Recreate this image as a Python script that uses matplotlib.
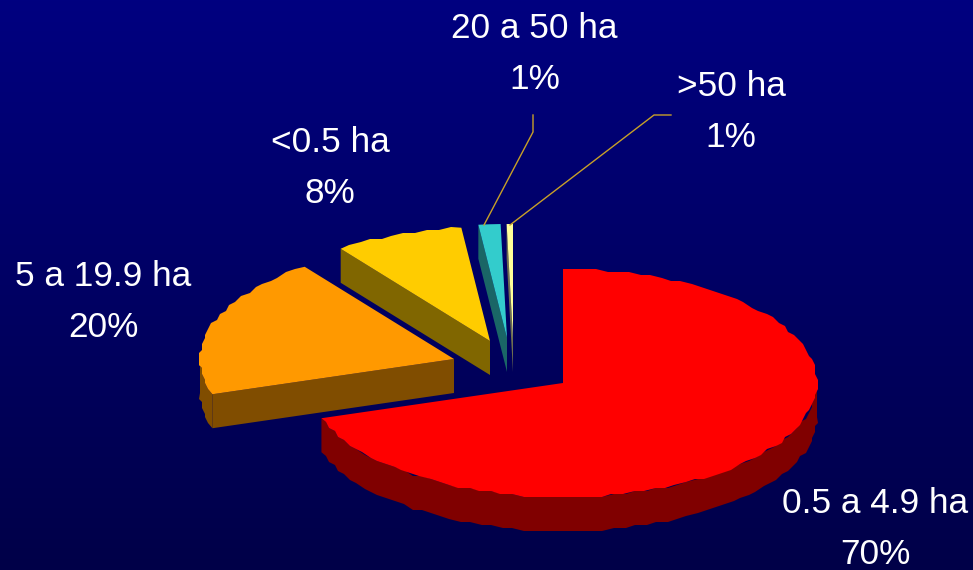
import numpy as np
import matplotlib
matplotlib.use("Agg")
import matplotlib.pyplot as plt
from matplotlib.patches import Polygon

categories = ["0.5 a 4.9 ha", "5 a 19.9 ha", "<0.5 ha", "20 a 50 ha", ">50 ha"]
values = [70, 20, 8.2, 1.4, 0.4]          # slice sizes
percent_labels = ["70%", "20%", "8%", "1%", "1%"]
top_colors = ["#ff0000", "#ff9900", "#ffcc00", "#33cccc", "#ffff99"]
side_colors = ["#800000", "#804d00", "#806600", "#1a6666", "#6e6e50"]
tips = [(563, 383), (454, 359), (490, 341), (507, 338), (513, 338)]
label_centres = [(875, 503.5), (103.5, 276.5), (330, 142.5), (534.5, 28.5), (731, 86.5)]

RX, RY, DEPTH = 254, 114, 34
LINE_GAP = 51
STAIR = 3.0

plt.rcParams["font.family"] = ["Liberation Sans", "DejaVu Sans"]
fig = plt.figure(figsize=(9.73, 5.70), dpi=100)
ax = fig.add_axes([0, 0, 1, 1])
ax.set_xlim(0, 973)
ax.set_ylim(570, 0)
ax.axis("off")

grad = np.zeros((256, 1, 3))
grad[:, 0, 2] = np.linspace(0x80, 0x48, 256) / 255
ax.imshow(grad, extent=(0, 973, 570, 0), aspect="auto", zorder=0)


def rim(tip, t0, t1, step=2.5):
    """Outline with the slightly stepped edge of the low-resolution original."""
    n = max(2, int(abs(t1 - t0) / step) + 1)
    t = np.radians(np.linspace(t0, t1, n))
    dx, dy = RX * np.sin(t), -RY * np.cos(t)
    if abs(t1 - t0) > 15:
        dx[1:-1] = np.round(dx[1:-1] / STAIR) * STAIR
        dy[1:-1] = np.round(dy[1:-1] / STAIR) * STAIR
    return tip[0] + dx, tip[1] + dy


def extrude(xs, ys):
    xs, ys = np.asarray(xs), np.asarray(ys)
    return np.r_[xs, xs[::-1]], np.r_[ys, ys[::-1] + DEPTH]


z = 1
start = 0.0
spans = []
for v in values:
    spans.append((start, start + v * 3.6))
    start += v * 3.6

# draw back-to-front: small slices first, red last among overlaps
for i in [4, 3, 2, 1, 0]:
    t0, t1 = spans[i]
    tip = tips[i]
    x, y = rim(tip, t0, t1)
    # outer wall (visible only on the lower half of the ellipse)
    a, b = max(t0, 90), min(t1, 270)
    if a < b:
        rx, ry = rim(tip, a, b)
        wx, wy = extrude(rx, ry)
        ax.add_patch(Polygon(np.c_[wx, wy], closed=True, fc=side_colors[i], ec="none", zorder=z))
    # radial cut wall facing the viewer
    if i != 0:
        ex, ey = rim(tip, t0, t0)
        wx, wy = extrude([tip[0], ex[0]], [tip[1], ey[0]])
        ax.add_patch(Polygon(np.c_[wx, wy], closed=True, fc=side_colors[i], ec="none", zorder=z))
    ax.add_patch(Polygon(np.c_[np.r_[tip[0], x], np.r_[tip[1], y]], closed=True,
                         fc=top_colors[i], ec="none", zorder=z + 0.5))
    z += 1

# leader lines
lead = "#c8a028"
ax.plot([484, 533, 533], [225, 132, 115], color=lead, lw=1, zorder=9)
ax.plot([510, 654, 671], [225, 115, 115], color=lead, lw=1, zorder=9)

for name, pct, (cx, cy) in zip(categories, percent_labels, label_centres):
    ax.text(cx, cy, name, color="white", fontsize=25.4, ha="center", va="center", zorder=10)
    ax.text(cx, cy + LINE_GAP, pct, color="white", fontsize=25.4, ha="center", va="center", zorder=10)

fig.savefig("out.png", dpi=100)
